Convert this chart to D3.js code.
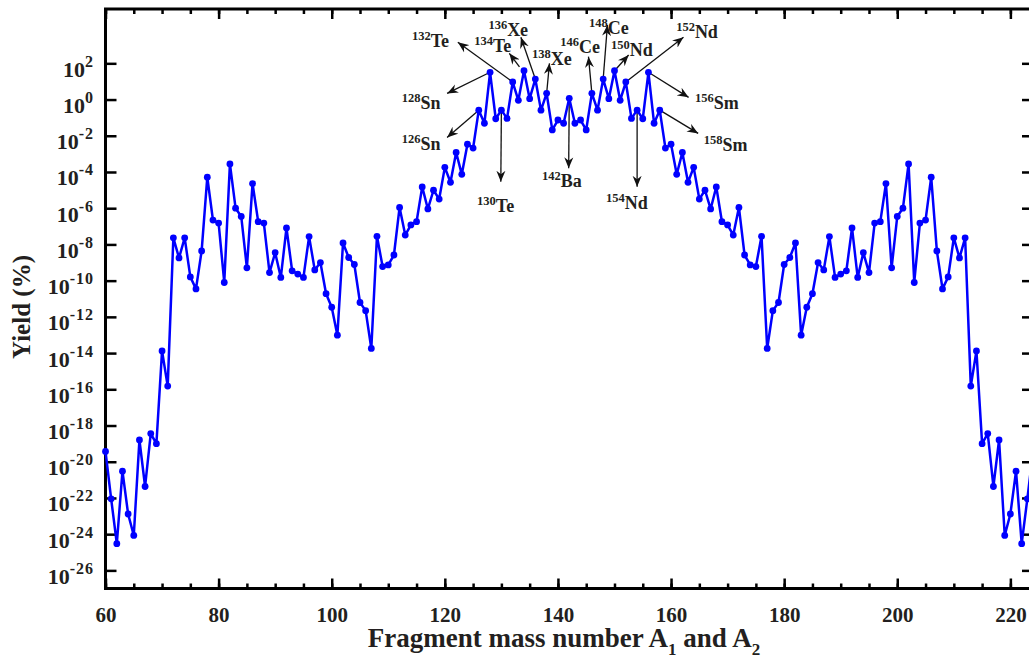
<!DOCTYPE html>
<html>
<head>
<meta charset="utf-8">
<script src="https://cdn.jsdelivr.net/npm/d3@7"></script>
<style>
body { margin: 0; background: #fff; }
text { font-family: "Liberation Serif", "Times New Roman", serif; font-weight: bold; fill: #231f20; }
</style>
</head>
<body>
<svg id="chart" width="1029" height="666"></svg>
<script>
// fragment mass numbers A1 (60..142) and A2 (142..224), A1 + A2 = 284
const masses = d3.range(60, 225);

// yield (%) for each mass number
const yields = [
  3.7e-20, 8.9e-23, 3.0e-25, 3.0e-21, 1.3e-23, 8.5e-25, 1.6e-19, 4.3e-22, 3.6e-19, 1.0e-19,   // 60-69
  1.3e-14, 1.5e-16, 2.3e-8, 1.8e-9, 2.3e-8, 1.6e-10, 3.5e-11, 4.4e-9, 5.2e-5, 2.2e-7,         // 70-79
  1.5e-7, 7.9e-11, 2.8e-4, 1.0e-6, 3.5e-7, 5.1e-10, 2.3e-5, 1.8e-7, 1.5e-7, 2.8e-10,         // 80-89
  3.5e-9, 1.5e-10, 8.1e-8, 3.5e-10, 2.3e-10, 1.5e-10, 2.7e-8, 3.9e-10, 1.0e-9, 1.9e-11,      // 90-99
  3.4e-12, 9.8e-14, 1.2e-8, 1.9e-9, 7.8e-10, 6.2e-12, 2.2e-12, 1.8e-14, 2.8e-8, 6.0e-10,     // 100-109
  7.4e-10, 2.6e-9, 1.1e-6, 3.3e-8, 1.2e-7, 1.8e-7, 1.5e-5, 9.1e-7, 9.8e-6, 3.2e-6,           // 110-119
  1.8e-4, 2.7e-5, 1.2e-3, 7.4e-5, 3.4e-3, 2.1e-3, 0.26, 0.049, 32, 0.087,                     // 120-129
  0.26, 0.091, 9.3, 0.91, 39, 1.12, 13.5, 0.26, 2.2, 0.021,                                   // 130-139
  0.074, 0.049, 1.17, 0.049, 0.074, 0.021, 2.2, 0.26, 13.5, 1.12,                             // 140-149
  39, 0.91, 9.3, 0.091, 0.26, 0.087, 32, 0.049, 0.26, 2.1e-3,                                 // 150-159
  3.4e-3, 7.4e-5, 1.2e-3, 2.7e-5, 1.8e-4, 3.2e-6, 9.8e-6, 9.1e-7, 1.5e-5, 1.8e-7,            // 160-169
  1.2e-7, 3.3e-8, 1.1e-6, 2.6e-9, 7.4e-10, 6.0e-10, 2.8e-8, 1.8e-14, 2.2e-12, 6.2e-12,       // 170-179
  7.8e-10, 1.9e-9, 1.2e-8, 9.8e-14, 3.4e-12, 1.9e-11, 1.0e-9, 3.9e-10, 2.7e-8, 1.5e-10,      // 180-189
  2.3e-10, 3.5e-10, 8.1e-8, 1.5e-10, 3.5e-9, 2.8e-10, 1.5e-7, 1.8e-7, 2.3e-5, 5.1e-10,       // 190-199
  3.5e-7, 1.0e-6, 2.8e-4, 7.9e-11, 1.5e-7, 2.2e-7, 5.2e-5, 4.4e-9, 3.5e-11, 1.6e-10,         // 200-209
  2.3e-8, 1.8e-9, 2.3e-8, 1.5e-16, 1.3e-14, 1.0e-19, 3.6e-19, 4.3e-22, 1.6e-19, 8.5e-25,     // 210-219
  1.3e-23, 3.0e-21, 3.0e-25, 8.9e-23, 3.7e-20                                                 // 220-224
];

const xMajorTicks = [60, 80, 100, 120, 140, 160, 180, 200, 220];
const xMinorTicks = d3.range(60, 225, 5);
const yTickExponents = [-26, -24, -22, -20, -18, -16, -14, -12, -10, -8, -6, -4, -2, 0, 2];

// labelled nuclides: arrow tip and label given as [A, log10(yield)]
const annotations = [
  { mass: 126, el: 'Sn', tip: [120.4, -2.09], label: [112.4, -2.79] },
  { mass: 128, el: 'Sn', tip: [120.4, 0.34], label: [112.4, -0.52] },
  { mass: 130, el: 'Te', tip: [129.9, -4.54], label: [125.7, -6.23] },
  { mass: 132, el: 'Te', tip: [122.3, 3.16], label: [114.2, 2.88] },
  { mass: 134, el: 'Te', from: [133.2, 1.81], tip: [131.4, 2.55], label: [125.2, 2.64] },
  { mass: 136, el: 'Xe', tip: [133.45, 3.44], label: [127.7, 3.51] },
  { mass: 138, el: 'Xe', tip: [138.5, 2.0], label: [135.4, 1.91] },
  { mass: 142, el: 'Ba', tip: [141.9, -3.8], label: [137.2, -4.82] },
  { mass: 146, el: 'Ce', tip: [145.4, 2.37], label: [140.4, 2.55] },
  { mass: 148, el: 'Ce', tip: [148.75, 4.12], label: [145.5, 3.62] },
  { mass: 150, el: 'Nd', tip: [152.5, 2.46], label: [149.4, 2.40] },
  { mass: 152, el: 'Nd', tip: [162.2, 3.44], label: [160.9, 3.38] },
  { mass: 154, el: 'Nd', tip: [154.0, -4.82], label: [148.5, -6.06] },
  { mass: 156, el: 'Sm', tip: [163.1, 0.12], label: [164.25, -0.52] },
  { mass: 158, el: 'Sm', tip: [164.8, -1.87], label: [165.8, -2.83] }
];

const data = masses.map((m, i) => ({ mass: m, yield: yields[i] }));

const svg = d3.select('#chart');

const x = d3.scaleLinear().domain([60, 224]).range([105.5, 1033]);
const y = d3.scaleLog().domain([1e-27, 1e5]).range([588.5, 9]);

const plotBottom = y.range()[0];
const plotTop = y.range()[1];
const plotLeft = x.range()[0];
const plotRight = x.range()[1];

// arrow head
svg.append('defs').append('marker')
    .attr('id', 'arrow')
    .attr('viewBox', '-11 -5 12 10')
    .attr('refX', 0)
    .attr('refY', 0)
    .attr('markerWidth', 12)
    .attr('markerHeight', 10)
    .attr('markerUnits', 'userSpaceOnUse')
    .attr('orient', 'auto')
    .append('path')
    .attr('d', 'M0,0 L-11,-4.5 L-7.5,0 L-11,4.5 Z')
    .attr('fill', '#111');

// axes, ticks point inward
function styleAxis(g) {
    g.select('.domain').remove();
    g.selectAll('.tick line').attr('stroke', '#000').attr('stroke-width', 2.5);
}

svg.append('g')
    .attr('transform', 'translate(0,' + plotBottom + ')')
    .call(d3.axisBottom(x).tickValues(xMinorTicks).tickSize(-5).tickFormat(''))
    .call(styleAxis);

svg.append('g')
    .attr('transform', 'translate(0,' + plotBottom + ')')
    .call(d3.axisBottom(x).tickValues(xMajorTicks).tickSize(-10).tickFormat(d3.format('d')))
    .call(styleAxis)
    .call(g => g.attr('font-family', null).attr('font-size', 20))
    .call(g => g.selectAll('.tick text')
        .attr('y', 33)
        .attr('dy', null)
        .attr('fill', '#231f20')
        .attr('font-size', 21));

svg.append('g')
    .attr('transform', 'translate(0,' + plotTop + ')')
    .call(d3.axisTop(x).tickValues(xMinorTicks).tickSize(-5).tickFormat(''))
    .call(styleAxis);

svg.append('g')
    .attr('transform', 'translate(0,' + plotTop + ')')
    .call(d3.axisTop(x).tickValues(xMajorTicks).tickSize(-10).tickFormat(''))
    .call(styleAxis);

const yTickValues = yTickExponents.map(e => Math.pow(10, e));

svg.append('g')
    .attr('transform', 'translate(' + plotLeft + ',0)')
    .call(d3.axisLeft(y).tickValues(yTickValues).tickSize(-11).tickFormat(''))
    .call(styleAxis);

svg.append('g')
    .attr('transform', 'translate(' + plotRight + ',0)')
    .call(d3.axisRight(y).tickValues(yTickValues).tickSize(-11).tickFormat(''))
    .call(styleAxis);

// y tick labels as 10 with superscript exponent
svg.append('g')
    .selectAll('text')
    .data(yTickExponents)
    .join('text')
    .attr('x', 94)
    .attr('y', d => y(Math.pow(10, d)) + 13.5)
    .attr('text-anchor', 'end')
    .each(function (d) {
        const t = d3.select(this);
        t.append('tspan').attr('font-size', 22).text('10');
        t.append('tspan').attr('font-size', 16).attr('dy', -10).attr('letter-spacing', 1).text(d);
    });

// frame
svg.append('rect')
    .attr('x', plotLeft)
    .attr('y', plotTop)
    .attr('width', plotRight - plotLeft)
    .attr('height', plotBottom - plotTop)
    .attr('fill', 'none')
    .attr('stroke', '#000')
    .attr('stroke-width', 3);

// annotation arrows and nuclide labels
const ann = svg.append('g');
annotations.forEach(function (a) {
    const point = data.find(d => d.mass === a.mass);
    const x0 = a.from ? x(a.from[0]) : x(point.mass);
    const y0 = a.from ? y(Math.pow(10, a.from[1])) : y(point.yield);
    ann.append('line')
        .attr('x1', x0)
        .attr('y1', y0)
        .attr('x2', x(a.tip[0]))
        .attr('y2', y(Math.pow(10, a.tip[1])))
        .attr('stroke', '#111')
        .attr('stroke-width', 1.3)
        .attr('marker-end', 'url(#arrow)');
    const t = ann.append('text')
        .attr('x', x(a.label[0]))
        .attr('y', y(Math.pow(10, a.label[1])));
    t.append('tspan').attr('font-size', 12.5).attr('dy', -7).text(a.mass);
    t.append('tspan').attr('font-size', 18).attr('dy', 7).text(a.el);
});

// yield curve
const line = d3.line()
    .x(d => x(d.mass))
    .y(d => y(d.yield));

svg.append('path')
    .datum(data)
    .attr('fill', 'none')
    .attr('stroke', '#0000ff')
    .attr('stroke-width', 2.5)
    .attr('stroke-linejoin', 'round')
    .attr('d', line);

svg.append('g')
    .selectAll('circle')
    .data(data)
    .join('circle')
    .attr('cx', d => x(d.mass))
    .attr('cy', d => y(d.yield))
    .attr('r', 3.4)
    .attr('fill', '#0000ff');

// axis titles
const xTitle = svg.append('text')
    .attr('x', 564)
    .attr('y', 647)
    .attr('text-anchor', 'middle')
    .attr('font-size', 27);
xTitle.append('tspan').text('Fragment mass number A');
xTitle.append('tspan').attr('font-size', 17).attr('dy', 8).text('1');
xTitle.append('tspan').attr('dy', -8).text(' and A');
xTitle.append('tspan').attr('font-size', 17).attr('dy', 8).text('2');

svg.append('text')
    .attr('transform', 'translate(30,307) rotate(-90)')
    .attr('text-anchor', 'middle')
    .attr('font-size', 25)
    .text('Yield (%)');
</script>
</body>
</html>
